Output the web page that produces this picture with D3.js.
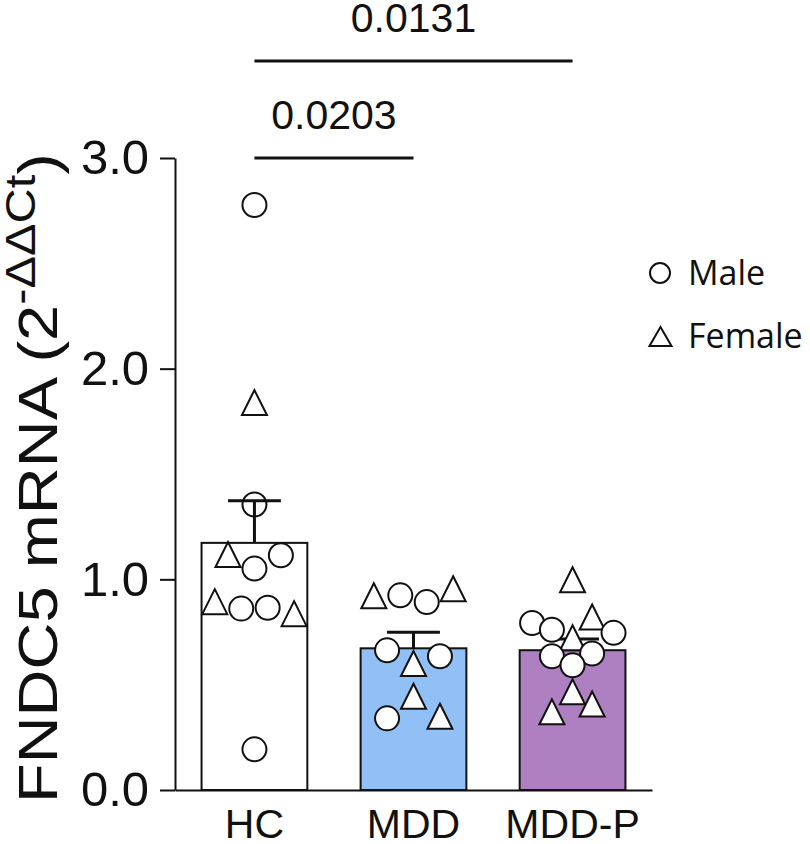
<!DOCTYPE html>
<html>
<head>
<meta charset="utf-8">
<script src="https://cdn.jsdelivr.net/npm/d3@7"></script>
<style>
  html, body { margin: 0; padding: 0; background: #fff; }
  svg { display: block; }
</style>
</head>
<body>
<svg id="chart" width="810" height="844"></svg>
<script>
// ---------- data ----------
const categories = ["HC", "MDD", "MDD-P"];

const hcValues   = [2.777, 1.839, 1.355, 1.118, 1.114, 1.051, 0.894, 0.861, 0.865, 0.837, 0.193];
const hcSex      = ["M", "F", "M", "F", "M", "M", "F", "M", "M", "F", "M"];
const hcJitter   = [0, 0, 0, -1, 1, 0, -1.5, -0.5, 0.5, 1.5, 0];

const mddValues  = [0.922, 0.924, 0.892, 0.955, 0.663, 0.600, 0.635, 0.445, 0.340, 0.350];
const mddSex     = ["F", "M", "M", "F", "M", "F", "M", "F", "M", "F"];
const mddJitter  = [-1.5, -0.5, 0.5, 1.5, -1, 0, 1, 0, -1, 1];

const mddpValues = [0.998, 0.821, 0.793, 0.761, 0.723, 0.746, 0.635, 0.648, 0.592, 0.466, 0.371, 0.408];
const mddpSex    = ["F", "F", "M", "M", "F", "M", "M", "M", "M", "F", "F", "F"];
const mddpJitter = [0, 0.74, -1.53, -0.78, 0, 1.55, -0.78, 0.74, 0, 0, -0.78, 0.74];

const yTicks      = [0, 1, 2, 3];
const yTickLabels = ["0.0", "1.0", "2.0", "3.0"];

const comparisons = [
  { from: "HC", to: "MDD",   p: "0.0203", level: 3.0 },
  { from: "HC", to: "MDD-P", p: "0.0131", level: 3.46 }
];

const legendItems = [
  { sex: "M", label: "Male" },
  { sex: "F", label: "Female" }
];

// ---------- styles ----------
const barFill = { "HC": "#ffffff", "MDD": "#91c0f6", "MDD-P": "#ae7fc1" };
const markerFill = { "HC": "none", "MDD": "#ffffff", "MDD-P": "#ffffff" };
const FONT = "'Liberation Sans', Arial, sans-serif";

// ---------- build ----------
const groups = [
  { cat: "HC",    values: hcValues,   sex: hcSex,   jitter: hcJitter },
  { cat: "MDD",   values: mddValues,  sex: mddSex,  jitter: mddJitter },
  { cat: "MDD-P", values: mddpValues, sex: mddpSex, jitter: mddpJitter }
];
groups.forEach(g => {
  g.mean = d3.mean(g.values);
  g.sem = d3.deviation(g.values) / Math.sqrt(g.values.length);
});

const svg = d3.select("#chart");

const x = d3.scaleBand().domain(categories).range([175, 652])
  .paddingInner(0.335).paddingOuter(0.167);
const y = d3.scaleLinear().domain([0, 3]).range([790, 158]);
const jitterUnit = x.bandwidth() / 4;

// bars
svg.append("g").selectAll("rect").data(groups).join("rect")
  .attr("x", d => x(d.cat))
  .attr("y", d => y(d.mean))
  .attr("width", x.bandwidth())
  .attr("height", d => y(0) - y(d.mean))
  .attr("fill", d => barFill[d.cat])
  .attr("stroke", "#111")
  .attr("stroke-width", 2);

// error bars
const eb = svg.append("g").attr("stroke", "#111").attr("stroke-width", 3);
groups.forEach(g => {
  const cx = x(g.cat) + x.bandwidth() / 2;
  eb.append("line").attr("x1", cx).attr("x2", cx)
    .attr("y1", y(g.mean)).attr("y2", y(g.mean + g.sem));
  eb.append("line").attr("x1", cx - x.bandwidth() / 4).attr("x2", cx + x.bandwidth() / 4)
    .attr("y1", y(g.mean + g.sem)).attr("y2", y(g.mean + g.sem));
});

// markers
const circleR = 12;
const triW = 25, triH = 25;
function trianglePath(w, h) {
  return `M0,${-h/2}L${w/2},${h/2}L${-w/2},${h/2}Z`;
}
const pts = svg.append("g");
groups.forEach(g => {
  const cx = x(g.cat) + x.bandwidth() / 2;
  g.values.forEach((v, i) => {
    const px = cx + g.jitter[i] * jitterUnit;
    const py = y(v);
    if (g.sex[i] === "M") {
      pts.append("circle").attr("cx", px).attr("cy", py).attr("r", circleR)
        .attr("fill", markerFill[g.cat]).attr("stroke", "#111").attr("stroke-width", 2);
    } else {
      pts.append("path").attr("d", trianglePath(triW, triH))
        .attr("transform", `translate(${px},${py})`)
        .attr("fill", markerFill[g.cat]).attr("stroke", "#111").attr("stroke-width", 2);
    }
  });
});

// y axis
const yAxis = d3.axisLeft(y).tickValues(yTicks)
  .tickFormat((d, i) => yTickLabels[i]).tickSize(15).tickSizeOuter(0).tickPadding(11);
const yg = svg.append("g").attr("transform", "translate(175,0)").call(yAxis);
yg.selectAll("path, line").attr("stroke", "#111").attr("stroke-width", 2);
yg.selectAll("text").attr("font-family", FONT).attr("font-size", 49).attr("fill", "#111");

// x axis
const xAxis = d3.axisBottom(x).tickSize(0).tickSizeOuter(0).tickPadding(19);
const xg = svg.append("g").attr("transform", "translate(0,790)").call(xAxis);
xg.select(".domain").attr("stroke", "#111").attr("stroke-width", 2);
xg.selectAll("text").attr("font-family", FONT).attr("font-size", 41).attr("fill", "#111");

// y title
const yt = svg.append("text")
  .attr("transform", "translate(57,803) rotate(-90)")
  .attr("font-family", FONT).attr("font-size", 56).attr("fill", "#111")
  .attr("textLength", 650).attr("lengthAdjust", "spacingAndGlyphs");
yt.append("tspan").text("FNDC5 mRNA (2");
yt.append("tspan").attr("font-size", 42).attr("dy", -22).text("-ΔΔCt");
yt.append("tspan").attr("dy", 22).text(")");

// significance brackets
const sig = svg.append("g");
comparisons.forEach(c => {
  const x1 = x(c.from) + x.bandwidth() / 2;
  const x2 = x(c.to) + x.bandwidth() / 2;
  const ly = y(c.level);
  sig.append("line").attr("x1", x1).attr("x2", x2).attr("y1", ly).attr("y2", ly)
    .attr("stroke", "#111").attr("stroke-width", 3);
  sig.append("text").attr("x", (x1 + x2) / 2).attr("y", ly - 29)
    .attr("text-anchor", "middle").attr("font-family", FONT).attr("font-size", 41)
    .attr("fill", "#111").text(c.p);
});

// legend
const lg = svg.append("g").attr("transform", "translate(660,273)");
legendItems.forEach((item, i) => {
  const gy = i * 63.5;
  if (item.sex === "M") {
    lg.append("circle").attr("cx", 0).attr("cy", gy).attr("r", 10)
      .attr("fill", "#fff").attr("stroke", "#111").attr("stroke-width", 2);
  } else {
    lg.append("path").attr("d", trianglePath(22, 19))
      .attr("transform", `translate(0.5,${gy})`)
      .attr("fill", "#fff").attr("stroke", "#111").attr("stroke-width", 2);
  }
  lg.append("text").attr("x", 28).attr("y", gy + 11.5)
    .attr("font-family", "'Open Sans', Lato, sans-serif").attr("font-size", 34)
    .attr("fill", "#111").text(item.label);
});
</script>
</body>
</html>
